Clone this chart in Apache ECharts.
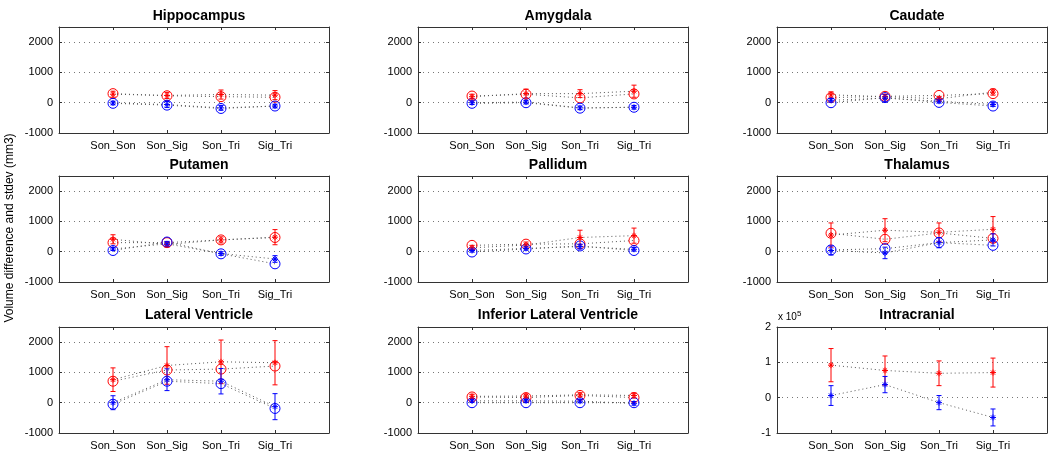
<!DOCTYPE html>
<html><head><meta charset="utf-8">
<script src="https://cdn.jsdelivr.net/npm/echarts@6/dist/echarts.min.js"></script>
<style>html,body{margin:0;padding:0;background:#fff}#c{width:1050px;height:454px}</style>
</head><body><div id="c"></div>
<script>
const categories = ['Son_Son', 'Son_Sig', 'Son_Tri', 'Sig_Tri'];
const titles = ['Hippocampus', 'Amygdala', 'Caudate', 'Putamen', 'Pallidum', 'Thalamus',
  'Lateral Ventricle', 'Inferior Lateral Ventricle', 'Intracranial'];
const yTicks = [-1000, 0, 1000, 2000];
const icvTicks = [-1, 0, 1, 2];

// red: circle means, star means (with stdev error bars)
const redCircle = [
  [300, 230, 200, 180], [220, 280, 160, 290], [170, 210, 240, 300],
  [300, 300, 390, 470], [210, 250, 260, 370], [610, 410, 620, 440],
  [710, 1080, 1110, 1210], [190, 170, 240, 170], null];
const redStar = [
  [280, 240, 270, 250], [200, 300, 300, 380], [260, 200, 130, 350],
  [410, 240, 390, 480], [130, 220, 470, 530], [550, 710, 640, 740],
  [760, 1230, 1350, 1320], [210, 220, 260, 240], [92000, 77000, 69000, 71000]];
const redSd = [
  [100, 100, 150, 150], [80, 150, 130, 200], [100, 80, 80, 100],
  [150, 80, 100, 250], [80, 100, 240, 250], [400, 380, 310, 420],
  [390, 620, 720, 730], [70, 70, 70, 80], [47000, 41000, 35000, 41000]];
// blue
const blueCircle = [
  [-20, -80, -190, -110], [-20, 0, -180, -150], [0, 170, 10, -110],
  [40, 320, -70, -400], [-10, 90, 190, 40], [60, 100, 300, 210],
  [-50, 710, 630, -190], [0, 0, 0, 0], null];
const blueStar = [
  [-10, -60, -170, -110], [0, 20, -170, -150], [80, 150, 50, -60],
  [90, 260, -60, -240], [40, 110, 170, 80], [40, -40, 300, 390],
  [0, 760, 710, -130], [60, 60, 50, -20], [6000, 37000, -14000, -56000]];
const blueSd = [
  [60, 100, 80, 60], [60, 60, 60, 60], [60, 120, 60, 60],
  [50, 80, 60, 110], [50, 60, 80, 60], [150, 190, 170, 200],
  [230, 360, 420, 430], [50, 50, 50, 60], [28000, 23000, 20000, 24000]];

const RED = '#ff0000', BLUE = '#0000ff';
const FONT = 'Liberation Sans, Arial, Helvetica, sans-serif';
const lefts = [59, 418, 777], tops = [27, 176, 327], W = 270, H = 106;
const titleTops = [4, 153, 303];
const STAR = 'path://M0,-5L0,5M-5,0L5,0M-3.5,-3.5L3.5,3.5M-3.5,3.5L3.5,-3.5';

const grids = [], xAxes = [], yAxes = [], series = [], titleArr = [];

function pts(arr) { return arr.map((v, i) => [i + 1, v]); }
function errRender(color) {
  return function (params, api) {
    const x = api.value(0), m = api.value(1), s = api.value(2);
    const t = api.coord([x, m + s]), b = api.coord([x, m - s]);
    const w = 2.5;
    const st = { stroke: color, lineWidth: 1 };
    return { type: 'group', children: [
      { type: 'line', shape: { x1: t[0], y1: t[1], x2: b[0], y2: b[1] }, style: st },
      { type: 'line', shape: { x1: t[0] - w, y1: t[1], x2: t[0] + w, y2: t[1] }, style: st },
      { type: 'line', shape: { x1: b[0] - w, y1: b[1], x2: b[0] + w, y2: b[1] }, style: st }
    ] };
  };
}

for (let p = 0; p < 9; p++) {
  const r = Math.floor(p / 3), c = p % 3;
  const icv = p === 8;
  grids.push({ left: lefts[c], top: tops[r], width: W, height: H, show: false, containLabel: false, outerBoundsMode: 'none' });
  titleArr.push({ text: titles[p], left: lefts[c] + W / 2, top: titleTops[r], textAlign: 'center',
    textStyle: { fontFamily: FONT, fontSize: 14, fontWeight: 'bold', color: '#000' } });
  const axLine = { show: true, onZero: false, lineStyle: { color: '#333', width: 1 } };
  const tick = { show: true, inside: true, length: 3, lineStyle: { color: '#333' } };
  xAxes.push({ gridIndex: p, type: 'value', min: 0, max: 5, interval: 1, position: 'bottom',
    axisLine: axLine, splitLine: { show: false }, axisTick: tick,
    axisLabel: { margin: 7, fontFamily: FONT, fontSize: 11, color: '#000',
      formatter: v => categories[v - 1] || '' } });
  xAxes.push({ gridIndex: p, type: 'value', min: 0, max: 5, interval: 1, position: 'top',
    axisLine: axLine, splitLine: { show: false }, axisLabel: { show: false }, axisTick: tick });
  const ticks = icv ? icvTicks.map(v => v * 100000) : yTicks;
  const yMin = ticks[0], yMax = icv ? 200000 : 2500, step = ticks[1] - ticks[0];
  yAxes.push({ gridIndex: p, type: 'value', min: yMin, max: yMax, interval: step, position: 'left',
    axisLine: axLine, axisTick: tick,
    splitLine: { show: true, lineStyle: { color: '#777', type: [1, 4], width: 1 } },
    axisLabel: { margin: 6, fontFamily: FONT, fontSize: 11, color: '#000',
      formatter: v => (ticks.indexOf(v) < 0 ? '' : (icv ? String(v / 100000) : String(v))) } });
  yAxes.push({ gridIndex: p, type: 'value', min: yMin, max: yMax, interval: step, position: 'right',
    axisLine: axLine, splitLine: { show: false }, axisLabel: { show: false }, axisTick: tick });
  const xi = p * 2, yi = p * 2;
  const lineSt = { color: '#555', type: [1, 3], width: 1 };
  const groups = [[redCircle, redStar, redSd, RED], [blueCircle, blueStar, blueSd, BLUE]];
  groups.forEach(([circ, star, sd, col]) => {
    if (circ[p]) {
      series.push({ type: 'line', xAxisIndex: xi, yAxisIndex: yi, data: pts(circ[p]),
        symbol: 'circle', symbolSize: 10, lineStyle: lineSt,
        itemStyle: { color: 'rgba(0,0,0,0)', borderColor: col, borderWidth: 1 }, z: 3 });
    }
    series.push({ type: 'custom', xAxisIndex: xi, yAxisIndex: yi,
      data: star[p].map((v, i) => [i + 1, v, sd[p][i]]),
      encode: { x: 0, y: 1 }, renderItem: errRender(col), z: 4 });
    series.push({ type: 'line', xAxisIndex: xi, yAxisIndex: yi, data: pts(star[p]),
      symbol: STAR, symbolSize: 6, lineStyle: lineSt,
      itemStyle: { color: 'rgba(0,0,0,0)', borderColor: col, borderWidth: 1 }, z: 5 });
  });
}

const chart = echarts.init(document.getElementById('c'), null, { renderer: 'canvas' });
chart.setOption({
  animation: false,
  backgroundColor: '#fff',
  title: titleArr,
  grid: grids, xAxis: xAxes, yAxis: yAxes, series: series,
  graphic: [
    { type: 'text', x: 10, y: 228, rotation: Math.PI / 2,
      style: { text: 'Volume difference and stdev (mm3)', fontFamily: FONT, fontSize: 12, fill: '#000',
        textAlign: 'center', textVerticalAlign: 'middle' } },
    { type: 'text', x: 778, y: 310,
      style: { rich: { a: { fontFamily: FONT, fontSize: 10, fill: '#000' },
                       s: { fontFamily: FONT, fontSize: 8, fill: '#000', verticalAlign: 'top', padding: [0, 0, 6, 0] } },
        text: '{a|x 10}{s|5}', fill: '#000' } }
  ]
});
</script></body></html>
